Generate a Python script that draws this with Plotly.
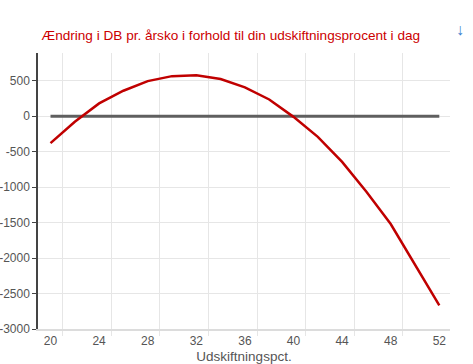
import plotly.graph_objects as go

pct = [20, 22, 24, 26, 28, 30, 32, 34, 36, 38, 40, 42, 44, 46, 48, 50, 52]
db_change = [-380, -80, 180, 358, 494, 564, 575, 523, 405, 235, -10, -292, -645,
             -1065, -1520, -2090, -2668]
baseline = [0] * len(pct)
x_ticks = [20, 24, 28, 32, 36, 40, 44, 48, 52]
y_ticks = [-3000, -2500, -2000, -1500, -1000, -500, 0, 500]
y_labels = ["-3000", "-2500", "-2000", "-1500", "-1000", "-500", "0", "500"]

title_text = "Ændring i DB pr. årsko i forhold til din udskiftningsprocent i dag"
x_title = "Udskiftningspct."

fig = go.Figure()
fig.add_trace(go.Scatter(x=pct, y=baseline, mode="lines",
                         line=dict(color="#5f5f5f", width=3), hoverinfo="skip"))
fig.add_trace(go.Scatter(x=pct, y=db_change, mode="lines",
                         line=dict(color="#c00000", width=2.5)))

font_family = "Liberation Sans, Arial, sans-serif"
fig.update_layout(
    width=473, height=364,
    margin=dict(l=38, r=23, t=53, b=35),
    paper_bgcolor="white", plot_bgcolor="white",
    showlegend=False,
    font=dict(family=font_family, size=12, color="#555555"),
    title=dict(text=title_text, x=0.488, xanchor="center", y=1 - 35 / 364,
               yanchor="middle", font=dict(family=font_family, size=13.6, color="#cc0000")),
    xaxis=dict(range=[18.97, 52.88], tickvals=x_ticks, showgrid=False, zeroline=False,
               automargin=False,
               showline=True, linecolor="#dcdcdc", linewidth=2, ticks="",
               tickfont=dict(size=12, color="#555555"),
               minor=dict(tick0=21, dtick=4, showgrid=True, gridcolor="#e6e6e6",
                          gridwidth=1, ticks="outside", ticklen=5, tickcolor="#e6e6e6"),
               title=dict(text=x_title, standoff=6, font=dict(size=13.5, color="#555555"))),
    yaxis=dict(range=[-3000, 890], tickvals=y_ticks, ticktext=y_labels,
               showgrid=True, gridcolor="#e6e6e6", automargin=False,
               zeroline=False, showline=True, linecolor="#444444", linewidth=1.5,
               ticks="outside", ticklen=4, tickcolor="#444444", ticklabelstandoff=0,
               tickfont=dict(size=12, color="#555555")),
)
fig.add_annotation(text="<b>↓</b>", xref="paper", yref="paper", x=(460 - 38) / 412,
                   y=1 + (53 - 29) / 276, xanchor="center", yanchor="middle",
                   showarrow=False, font=dict(size=16, color="#3b7fd0"))
fig.write_html("out.html")
